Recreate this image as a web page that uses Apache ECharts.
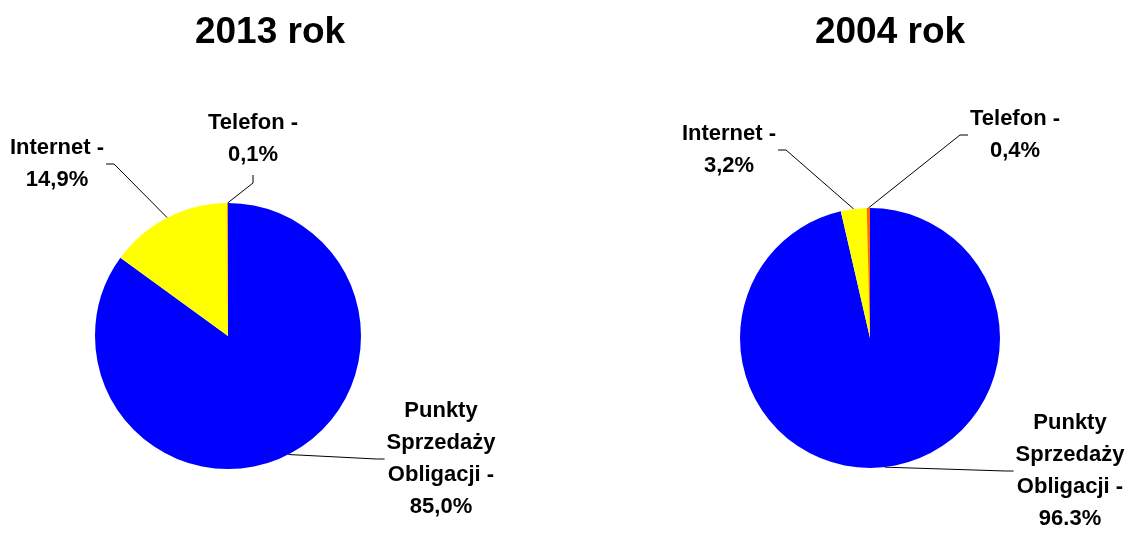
<!DOCTYPE html>
<html>
<head>
<meta charset="utf-8">
<script src="https://cdn.jsdelivr.net/npm/echarts@6/dist/echarts.min.js"></script>
<style>
html,body{margin:0;padding:0;background:#fff;}
#chart{width:1131px;height:539px;}
</style>
</head>
<body>
<div id="chart"></div>
<script>
const titles = ['2013 rok', '2004 rok'];
const categories = ['Punkty\nSprzedaży\nObligacji', 'Internet', 'Telefon'];
const values2013 = [85.0, 14.9, 0.1];
const values2004 = [96.3, 3.2, 0.4];
const valueLabels2013 = ['85,0%', '14,9%', '0,1%'];
const valueLabels2004 = ['96.3%', '3,2%', '0,4%'];
const colors = ['#0000FF', '#FFFF00', '#FF6A00'];

const labelFont = "'Liberation Sans Narrow', 'Arial Narrow', 'Liberation Sans', Arial, sans-serif";
const titleFont = "'Liberation Sans', Arial, sans-serif";

// label anchor positions (text block centres) for each pie
const labelPos = [
  [[441, 459], [57, 164], [253, 139]],
  [[1070, 471], [729, 150], [1015, 135]]
];

function makeSeries(idx, values, valueLabels, center, radius) {
  return {
    type: 'pie',
    center: center,
    radius: radius,
    startAngle: 90,
    clockwise: true,
    avoidLabelOverlap: false,
    animation: false,
    silent: true,
    data: categories.map((c, i) => ({
      name: c,
      value: values[i],
      itemStyle: { color: colors[i] }
    })),
    label: {
      show: true,
      position: 'outside',
      formatter: p => p.name + ' -\n' + valueLabels[p.dataIndex],
      fontFamily: labelFont,
      fontWeight: 'bold',
      fontSize: 22,
      lineHeight: 32,
      color: '#000',
      align: 'center',
      padding: [4, 2, 4, 2]
    },
    labelLine: {
      show: true,
      length: 20,
      length2: 8,
      lineStyle: { color: '#000', width: 1 }
    },
    labelLayout: function (params) {
      const p = labelPos[idx][params.dataIndex];
      return {
        x: p[0],
        y: p[1],
        align: 'center',
        verticalAlign: 'middle',
        moveOverlap: false,
        hideOverlap: false
      };
    }
  };
}

const chart = echarts.init(document.getElementById('chart'));
chart.setOption({
  backgroundColor: '#fff',
  animation: false,
  graphic: [
    { type: 'text', x: 270, y: 33, style: { text: titles[0], font: "bold 37px " + titleFont, fill: '#000', textAlign: 'center', textVerticalAlign: 'middle' } },
    { type: 'text', x: 890, y: 33, style: { text: titles[1], font: "bold 37px " + titleFont, fill: '#000', textAlign: 'center', textVerticalAlign: 'middle' } }
  ],
  series: [
    makeSeries(0, values2013, valueLabels2013, [228, 336], 133),
    makeSeries(1, values2004, valueLabels2004, [870, 338], 130)
  ]
});
</script>
</body>
</html>
